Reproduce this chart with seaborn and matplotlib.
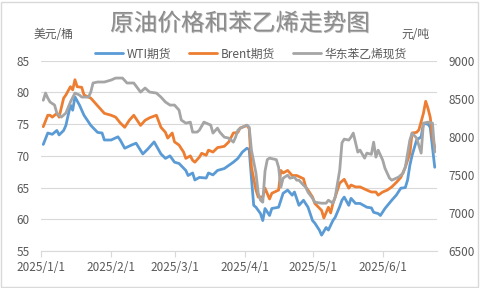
import matplotlib
matplotlib.use('Agg')
import matplotlib.pyplot as plt
import matplotlib.patheffects as pe
from matplotlib.patches import Rectangle
import seaborn as sns
import pandas as pd

sns.set_theme(style='white')
plt.rcParams['font.family'] = ['Noto Sans CJK SC', 'DejaVu Sans']

title = '原油价格和苯乙烯走势图'
left_label = '美元/桶'
right_label = '元/吨'
series_names = ['WTI期货', 'Brent期货', '华东苯乙烯现货']
x_tick_dates = ['2025-01-01', '2025-02-01', '2025-03-01', '2025-04-01', '2025-05-01', '2025-06-01']
x_tick_labels = ['2025/1/1', '2025/2/1', '2025/3/1', '2025/4/1', '2025/5/1', '2025/6/1']

wti_dates = ['01-02', '01-04', '01-06', '01-08', '01-09', '01-11', '01-12', '01-14', '01-15', '01-16',
             '01-18', '01-20', '01-23', '01-26', '01-28', '01-29', '02-01', '02-04', '02-05', '02-07',
             '02-10', '02-12', '02-15', '02-17', '02-20', '02-23', '02-25', '02-27', '03-01', '03-03',
             '03-06', '03-07', '03-09', '03-10', '03-12', '03-15', '03-16', '03-18', '03-20', '03-23',
             '03-25', '03-27', '03-29', '03-31', '04-02', '04-03', '04-04', '04-05', '04-06', '04-08',
             '04-09', '04-10', '04-12', '04-13', '04-16', '04-18', '04-20', '04-22', '04-23', '04-25',
             '04-27', '04-29', '05-01', '05-02', '05-04', '05-05', '05-07', '05-08', '05-10', '05-11',
             '05-13', '05-14', '05-15', '05-17', '05-18', '05-20', '05-22', '05-25', '05-27', '05-28',
             '05-30', '05-31', '06-02', '06-05', '06-07', '06-09', '06-11', '06-12', '06-13', '06-14',
             '06-16', '06-18', '06-19', '06-21', '06-22', '06-24']
wti_values = [71.8, 73.6, 73.4, 74.0, 73.3, 74.0, 74.8, 78.0, 77.2, 79.3,
              78.0, 76.4, 74.8, 73.7, 73.6, 72.5, 72.5, 73.0, 72.5, 71.2,
              71.7, 72.0, 70.3, 71.0, 72.2, 70.3, 69.6, 70.0, 69.0, 68.8,
              67.7, 66.9, 67.3, 66.2, 66.6, 66.5, 67.3, 67.0, 67.7, 68.0,
              68.5, 69.0, 69.6, 70.6, 71.2, 71.0, 66.5, 62.2, 61.9, 60.9,
              59.8, 61.7, 60.6, 61.7, 61.9, 64.1, 64.6, 63.8, 64.3, 62.2,
              63.0, 61.9, 59.8, 59.4, 58.3, 57.5, 58.7, 58.3, 59.8, 60.3,
              62.0, 63.0, 63.5, 62.2, 63.3, 62.5, 62.5, 61.9, 61.8, 61.1,
              60.9, 60.6, 61.7, 63.0, 63.8, 64.9, 65.0, 66.2, 68.5, 70.1,
              72.5, 73.0, 75.1, 75.0, 74.5, 68.2]

brent_dates = ['01-02', '01-04', '01-05', '01-06', '01-08', '01-09', '01-11', '01-12', '01-14', '01-15',
               '01-16', '01-17', '01-19', '01-20', '01-23', '01-25', '01-27', '01-29', '02-01', '02-03',
               '02-05', '02-07', '02-09', '02-11', '02-14', '02-16', '02-18', '02-21', '02-23', '02-25',
               '02-26', '02-28', '03-01', '03-03', '03-05', '03-06', '03-08', '03-09', '03-10', '03-12',
               '03-13', '03-15', '03-16', '03-18', '03-20', '03-23', '03-25', '03-27', '03-29', '03-30',
               '03-31', '04-02', '04-03', '04-04', '04-06', '04-07', '04-09', '04-10', '04-12', '04-13',
               '04-16', '04-17', '04-18', '04-20', '04-22', '04-24', '04-27', '04-28', '04-29', '05-01',
               '05-02', '05-05', '05-06', '05-08', '05-09', '05-10', '05-11', '05-13', '05-15', '05-17',
               '05-18', '05-20', '05-22', '05-25', '05-27', '05-29', '05-30', '06-01', '06-03', '06-05',
               '06-07', '06-09', '06-11', '06-13', '06-14', '06-16', '06-17', '06-19', '06-20', '06-21',
               '06-22', '06-23', '06-24']
brent_values = [74.6, 76.4, 76.4, 76.1, 76.7, 76.1, 79.1, 79.6, 80.9, 80.4,
                82.0, 80.9, 80.8, 79.6, 79.1, 78.3, 77.5, 76.7, 76.4, 76.1,
                75.2, 74.5, 75.6, 76.4, 74.8, 75.6, 76.0, 76.4, 74.5, 73.7,
                72.8, 73.6, 72.2, 71.7, 70.6, 69.6, 70.0, 69.3, 69.0, 69.8,
                70.4, 70.1, 70.9, 70.6, 71.3, 71.5, 72.2, 73.6, 73.7, 74.4,
                74.5, 74.8, 74.3, 68.2, 64.6, 63.5, 63.5, 64.9, 63.2, 64.1,
                64.6, 67.7, 67.3, 67.7, 66.9, 66.9, 66.4, 65.1, 64.6, 63.5,
                62.5, 61.4, 60.2, 61.9, 61.0, 62.5, 63.5, 65.7, 66.3, 64.9,
                65.4, 65.1, 65.1, 64.6, 64.3, 64.3, 63.8, 64.3, 64.6, 65.1,
                65.8, 66.6, 68.2, 70.4, 73.6, 73.7, 74.1, 76.7, 78.6, 77.5,
                76.1, 73.0, 71.3]

styrene_dates = ['01-02', '01-03', '01-04', '01-05', '01-07', '01-08', '01-10', '01-12', '01-14', '01-16',
                 '01-18', '01-19', '01-22', '01-23', '01-24', '01-26', '01-29', '02-01', '02-03', '02-06',
                 '02-08', '02-11', '02-14', '02-16', '02-18', '02-21', '02-23', '02-25', '02-27', '03-01',
                 '03-03', '03-04', '03-06', '03-08', '03-09', '03-11', '03-12', '03-14', '03-15', '03-17',
                 '03-18', '03-20', '03-21', '03-23', '03-25', '03-27', '03-28', '03-29', '03-31', '04-02',
                 '04-03', '04-04', '04-06', '04-07', '04-08', '04-09', '04-10', '04-11', '04-12', '04-15',
                 '04-16', '04-17', '04-18', '04-20', '04-21', '04-23', '04-24', '04-25', '04-27', '04-28',
                 '04-29', '05-01', '05-02', '05-05', '05-07', '05-08', '05-10', '05-11', '05-13', '05-14',
                 '05-15', '05-17', '05-18', '05-19', '05-21', '05-22', '05-24', '05-25', '05-27', '05-28',
                 '05-29', '05-30', '06-01', '06-02', '06-04', '06-05', '06-07', '06-08', '06-10', '06-11',
                 '06-13', '06-14', '06-16', '06-18', '06-19', '06-21', '06-23', '06-24']
styrene_values = [8480, 8575, 8509, 8457, 8417, 8312, 8259, 8312, 8457, 8575,
                  8549, 8522, 8522, 8588, 8707, 8720, 8720, 8746, 8772, 8772,
                  8707, 8707, 8588, 8641, 8588, 8575, 8522, 8457, 8417, 8417,
                  8351, 8220, 8180, 8193, 8062, 8062, 8088, 8193, 8180, 8154,
                  8049, 8114, 8062, 7996, 7983, 7930, 7996, 8088, 8128, 8154,
                  8128, 7825, 7522, 7259, 7167, 7141, 7550, 7700, 7720, 7700,
                  7600, 7338, 7457, 7496, 7457, 7470, 7430, 7430, 7365, 7338,
                  7272, 7193, 7141, 7128, 7128, 7167, 7128, 7207, 7560, 7920,
                  7970, 7957, 7996, 8049, 7799, 7825, 7720, 7786, 7770, 7930,
                  7733, 7825, 7694, 7588, 7457, 7430, 7457, 7470, 7522, 7601,
                  7957, 8049, 7983, 7786, 8180, 8193, 8180, 7800]

colors = ['#5B9BD5', '#ED7D31', '#A5A5A5']
text_color = '#595959'
grid_color = '#D9D9D9'


def to_dt(lst):
    return pd.to_datetime(['2025-' + d for d in lst])


fig = plt.figure(figsize=(4.8, 2.88), dpi=100)
fig.patch.set_facecolor('white')
L, R, T, B = 41, 437, 60.7, 251
ax = fig.add_axes([L / 480, 1 - B / 288, (R - L) / 480, (B - T) / 288])
ax2 = ax.twinx()

sns.lineplot(x=to_dt(wti_dates), y=wti_values, ax=ax, color=colors[0], lw=2.0, legend=False)
sns.lineplot(x=to_dt(brent_dates), y=brent_values, ax=ax, color=colors[1], lw=2.0, legend=False)
sns.lineplot(x=to_dt(styrene_dates), y=styrene_values, ax=ax2, color=colors[2], lw=2.0, legend=False)

ax.set_xlim(pd.Timestamp('2025-01-01'), pd.Timestamp('2025-06-25'))
ax.set_ylim(55, 85)
ax.set_yticks(range(55, 86, 5))
ax2.set_ylim(6500, 9000)
ax2.set_yticks(range(6500, 9001, 500))
ax.set_xticks(pd.to_datetime(x_tick_dates))
ax.set_xticklabels(x_tick_labels)
ax.set_xlabel('')
ax.set_ylabel('')
ax2.set_ylabel('')

ax.grid(axis='y', color=grid_color, lw=0.8)
ax.grid(axis='x', visible=False)
ax2.grid(False)
ax.set_axisbelow(True)
for s in ['top', 'left', 'right']:
    ax.spines[s].set_visible(False)
    ax2.spines[s].set_visible(False)
ax2.spines['bottom'].set_visible(False)
ax.spines['bottom'].set_color(grid_color)
ax.spines['bottom'].set_linewidth(0.8)

ax.tick_params(axis='x', direction='out', length=4, width=0.8, color=grid_color,
               labelcolor=text_color, labelsize=8.5, pad=3, bottom=True)
ax.tick_params(axis='y', length=0, labelcolor=text_color, labelsize=8.5, pad=8)
ax2.tick_params(axis='y', length=0, labelcolor=text_color, labelsize=8.5, pad=8)

fig.text(240 / 480, 1 - 24 / 288, title, ha='center', va='center', fontsize=17,
         color='#8c8c8c', fontweight='light',
         path_effects=[pe.withSimplePatchShadow(offset=(0.6, -0.6), shadow_rgbFace='#444444', alpha=0.35)])
fig.text(53 / 480, 1 - 34 / 288, left_label, ha='center', va='center', fontsize=8.5, color=text_color)
fig.text(415 / 480, 1 - 34 / 288, right_label, ha='center', va='center', fontsize=8.5, color=text_color)

handles = [plt.Line2D([], [], color=c, lw=2.0) for c in colors]
fig.legend(handles, series_names, loc='center', bbox_to_anchor=(251 / 480, 1 - 54 / 288), ncol=3,
           frameon=False, fontsize=8.5, handlelength=2.4, handletextpad=0.3, columnspacing=1.5,
           labelcolor=text_color)

fig.patches.append(Rectangle((1 / 480, 1 / 288), 477 / 480, 285 / 288, transform=fig.transFigure,
                             fill=False, edgecolor=grid_color, lw=1))

fig.savefig('out.png', dpi=100, facecolor='white')
